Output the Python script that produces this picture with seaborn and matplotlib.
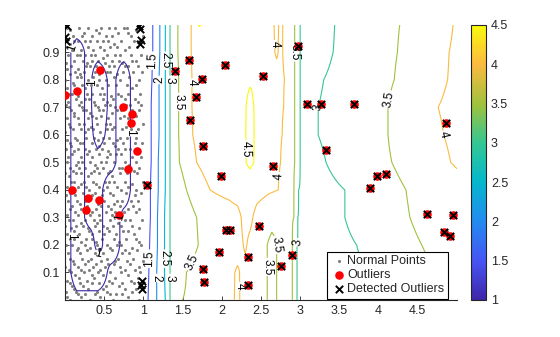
import numpy as np
import pandas as pd
import matplotlib
matplotlib.use("Agg")
import matplotlib.pyplot as plt
import seaborn as sns
from matplotlib.colors import LinearSegmentedColormap, Normalize
from matplotlib.cm import ScalarMappable

# ---------------- data ----------------
# normal points, encoded "xxyy" (x*100, y*100)
normal_codes = """
0301 0700 1602 2101 3200 3802 4501 5702 6100 7302 8001 9400
0103 1104 1403 2602 2904 4103 4904 5303 6502 7704 8503 9104
0606 0905 1906 2305 3506 4406 5205 6006 6905 7306 8806 9705
0207 1309 1808 2807 3409 3708 4809 5607 6408 8109 8407 9308
0511 0810 2011 2410 3111 4210 4511 5810 7110 7611 8911 9610
0012 1213 1712 2613 3612 4013 5112 5513 6213 7012 8313 9412
0715 1014 2215 3014 3315 4614 5315 6414 6815 7914 8715 9914
0417 1518 1917 2818 3817 4318 4917 6018 7317 7718 8217 9218
0120 0920 1619 2520 3219 4120 5420 5819 6620 7120 8519 9720
0622 1122 2121 2722 3522 3921 4722 6222 6921 7822 9022 9521
0324 1225 1824 3125 3424 4425 5024 5625 6524 7425 8125 8824
0027 0826 1427 2327 2926 3827 4827 5326 6127 7127 8527 9426
0529 1029 2028 2629 3729 4128 4529 5729 6828 7729 8329 9829
0231 1332 1731 2432 3231 3532 4331 5232 6031 6432 7532 9132
0733 0934 2133 2834 3933 4634 5534 5933 7034 8033 8734 9533
0436 1536 1935 2536 3036 4235 5036 6335 6736 7336 8436 9336
0138 0639 1338 2339 3438 3839 4738 5839 6138 7839 8938 9739
0341 1140 1741 2741 3140 4341 4840 5341 6641 7240 8141 9040
0843 1243 2142 2443 3643 4042 5143 5643 6343 7643 8642 9943
0046 0545 1446 2046 2945 3346 4446 5546 6045 7046 7946 9246
0748 1047 1848 2648 3747 4148 4948 5747 6948 7348 8847 9548
0250 1449 1650 2250 3250 3849 4650 5250 6250 7650 8249 9150
0452 0953 2052 2853 3552 4353 5352 5853 6553 7253 8552 9752
0155 1154 1755 2555 3154 4055 4755 5554 6855 7755 8355 9454
0657 0856 1957 2357 3457 4456 5057 6157 6456 7457 8957 9857
0358 1359 1558 2759 3759 4258 4859 5659 6658 7059 7959 9159
0061 1062 2162 2661 3062 3662 4561 5362 6062 7362 8462 9362
0564 0763 1864 2464 3363 4164 5264 5764 6363 7863 8764 9964
0266 1267 1666 2966 3567 4066 4667 5566 7066 7567 8166 9067
0869 1168 2369 2769 3268 4469 4969 6068 6669 7169 8569 9569
0171 0570 1871 2270 3871 4270 5171 5771 6470 7871 8371 9771
0472 1473 2072 2573 3173 3772 4873 5472 6173 7673 8973 9372
0775 0975 1674 2875 3575 4575 5075 5974 6875 7274 8075 9675
0277 1278 2278 2677 3378 4178 4777 5578 6578 7978 8677 9178
0080 1079 1581 2181 3080 3681 4380 5280 6281 7080 8281 9580
0682 1383 1982 2483 3883 4482 5383 5883 6782 7483 8783 9883
0384 0885 1784 2785 3285 4085 4684 5685 6385 7785 8185 9385
0186 1187 2387 2886 3587 4287 5186 6087 6987 7386 8587 9087
0489 1589 1989 2589 3389 3889 4988 5489 6489 7089 8489 9789
0292 0991 2191 3092 3691 4592 5091 5792 6692 7691 8292 9292
0693 1294 1694 2694 3294 4194 4894 5594 6293 7294 8894 9594
0096 1096 2296 2497 3596 4397 5296 6096 6897 8097 8496 9996
0399 0798 1899 2999 3998 4699 5699 6499 7599 7999 9098 9499
"""
normal_x = [int(c[:2]) / 100 for c in normal_codes.split()]
normal_y = [int(c[2:]) / 100 for c in normal_codes.split()]

outlier_x = [0.00, 0.157, 0.446, 0.744, 0.85, 0.84, 0.914, 0.085, 0.297, 0.438, 0.268, 0.689, 0.808,
             1.042, 1.403, 1.586, 1.594, 1.67, 1.75, 1.756, 1.764, 1.777, 1.97, 1.99, 2.04, 2.06, 2.105,
             2.34, 2.34, 2.48, 2.53, 2.65, 2.76, 2.9, 2.976, 3.09, 3.265, 3.33, 3.69, 3.89, 3.98, 4.10,
             4.62, 4.83, 4.86, 4.91, 4.95]
outlier_y = [0.745, 0.76, 0.835, 0.70, 0.675, 0.645, 0.54, 0.40, 0.37, 0.365, 0.328, 0.31, 0.477,
             0.419, 0.832, 0.871, 0.654, 0.739, 0.805, 0.113, 0.56, 0.066, 0.174, 0.451, 0.856, 0.253, 0.253,
             0.157, 0.053, 0.27, 0.816, 0.488, 0.125, 0.162, 0.925, 0.712, 0.711, 0.546, 0.711, 0.407, 0.452, 0.457,
             0.314, 0.246, 0.642, 0.234, 0.308]
outlier_detected = [False] * 13 + [True] * 34

false_pos_x = [0.02, 0.005, 0.01, 0.94, 0.96, 0.975, 0.955, 0.98, 0.975, 0.985]
false_pos_y = [0.995, 0.955, 0.94, 0.995, 0.985, 0.945, 0.93, 0.07, 0.055, 0.04]

# outlier-score field, read per row (y) as knots along x
row_y = [0.0, 0.1, 0.2, 0.3, 0.4, 0.5, 0.6, 0.7, 0.8, 0.9, 1.0]
left_x = [0.0, 0.15, 0.3, 0.42, 0.6, 0.75, 0.92]
left_z = [
    [1.1, 1.05, 1.05, 1.05, 1.05, 1.05, 1.1],
    [1.1, 0.9, 0.9, 0.9, 1.05, 1.05, 1.05],
    [1.1, 0.9, 0.9, 1.05, 0.9, 1.05, 1.05],
    [1.1, 0.9, 1.05, 1.05, 0.9, 1.05, 1.05],
    [1.1, 0.9, 1.05, 1.05, 0.9, 0.9, 1.1],
    [1.1, 0.9, 1.05, 1.05, 1.05, 0.9, 1.1],
    [1.1, 0.9, 1.05, 0.95, 1.05, 0.9, 1.1],
    [1.1, 0.9, 1.05, 0.9, 1.05, 0.9, 1.1],
    [1.1, 0.9, 1.05, 0.9, 1.05, 0.9, 1.1],
    [1.1, 0.9, 1.05, 1.05, 1.05, 1.05, 1.05],
    [1.1, 1.1, 1.05, 1.05, 1.05, 1.05, 1.05],
]
right_x = [
    [1.0, 1.06, 1.17, 1.28, 1.34, 1.5, 1.8, 2.12, 2.2, 2.26, 2.5, 2.58, 2.64, 2.70, 2.8, 2.9, 2.96, 3.5, 3.95, 4.35, 4.76, 5.0],
    [1.0, 1.07, 1.17, 1.27, 1.34, 1.55, 1.8, 2.1, 2.2, 2.28, 2.5, 2.58, 2.64, 2.70, 2.8, 2.9, 2.96, 3.4, 3.9, 4.3, 4.7, 5.0],
    [1.0, 1.08, 1.18, 1.27, 1.34, 1.70, 1.9, 2.2, 2.3, 2.36, 2.5, 2.58, 2.64, 2.70, 2.8, 2.9, 2.96, 3.3, 3.72, 4.1, 4.55, 5.0],
    [1.0, 1.09, 1.18, 1.27, 1.34, 1.68, 1.9, 2.2, 2.28, 2.36, 2.45, 2.6, 2.8, 2.92, 2.97, 3.2, 3.57, 4.0, 4.4, 4.7, 5.0],
    [1.0, 1.09, 1.19, 1.28, 1.34, 1.55, 1.85, 2.1, 2.3, 2.45, 2.6, 2.72, 2.92, 2.98, 3.2, 3.57, 3.95, 4.35, 4.7, 5.0],
    [1.0, 1.1, 1.19, 1.28, 1.34, 1.46, 1.68, 1.9, 2.2, 2.3, 2.36, 2.42, 2.6, 2.75, 2.93, 3.0, 3.15, 3.33, 3.75, 4.17, 4.6, 4.92, 5.0],
    [1.0, 1.1, 1.2, 1.28, 1.34, 1.45, 1.63, 1.8, 2.2, 2.3, 2.36, 2.42, 2.6, 2.77, 2.93, 3.0, 3.1, 3.23, 3.7, 4.12, 4.5, 4.83, 5.0],
    [1.0, 1.1, 1.2, 1.28, 1.34, 1.45, 1.62, 1.8, 2.2, 2.3, 2.36, 2.42, 2.6, 2.79, 2.93, 3.0, 3.1, 3.23, 3.7, 4.12, 4.45, 4.76, 5.0],
    [1.0, 1.11, 1.2, 1.28, 1.34, 1.45, 1.62, 1.8, 2.2, 2.38, 2.6, 2.8, 2.93, 3.0, 3.12, 3.3, 3.8, 4.2, 4.55, 4.88, 5.0],
    [1.0, 1.12, 1.21, 1.28, 1.34, 1.44, 1.61, 1.8, 2.2, 2.6, 2.7, 2.75, 2.86, 2.93, 3.0, 3.2, 3.42, 3.85, 4.24, 4.6, 4.9, 5.0],
    [1.0, 1.12, 1.21, 1.28, 1.34, 1.44, 1.61, 1.71, 1.85, 2.2, 2.6, 2.7, 2.75, 2.86, 2.93, 3.0, 3.2, 3.44, 3.85, 4.27, 4.6, 4.95, 5.0],
]
right_z = [
    [1.2, 1.5, 2.0, 2.5, 3.0, 3.5, 3.75, 3.95, 4.05, 3.95, 3.75, 3.5, 3.35, 3.5, 3.6, 3.5, 3.0, 2.85, 3.0, 3.25, 3.5, 3.65],
    [1.2, 1.5, 2.0, 2.5, 3.0, 3.5, 3.75, 3.9, 4.05, 3.9, 3.75, 3.5, 3.35, 3.5, 3.6, 3.5, 3.0, 2.85, 3.0, 3.25, 3.5, 3.7],
    [1.2, 1.5, 2.0, 2.5, 3.0, 3.5, 3.75, 3.85, 4.05, 3.9, 3.75, 3.5, 3.35, 3.5, 3.6, 3.5, 3.0, 2.85, 3.0, 3.25, 3.5, 3.75],
    [1.2, 1.5, 2.0, 2.5, 3.0, 3.5, 3.8, 3.85, 4.1, 4.1, 3.85, 3.7, 3.6, 3.5, 3.0, 2.85, 3.0, 3.25, 3.5, 3.7, 3.8],
    [1.2, 1.5, 2.0, 2.5, 3.0, 3.5, 4.0, 4.1, 4.3, 4.15, 4.05, 4.0, 3.5, 3.0, 2.85, 3.0, 3.25, 3.5, 3.75, 3.9],
    [1.2, 1.5, 2.0, 2.5, 3.0, 3.5, 4.0, 4.3, 4.4, 4.48, 4.58, 4.48, 4.2, 4.0, 3.5, 3.0, 2.85, 3.0, 3.28, 3.5, 3.8, 4.0, 4.03],
    [1.2, 1.5, 2.0, 2.5, 3.0, 3.5, 4.0, 4.3, 4.4, 4.48, 4.65, 4.48, 4.2, 4.0, 3.5, 3.0, 2.85, 3.0, 3.3, 3.5, 3.8, 4.0, 4.08],
    [1.2, 1.5, 2.0, 2.5, 3.0, 3.5, 4.0, 4.3, 4.4, 4.48, 4.6, 4.48, 4.2, 4.0, 3.5, 3.0, 2.85, 3.0, 3.3, 3.5, 3.8, 4.0, 4.1],
    [1.2, 1.5, 2.0, 2.5, 3.0, 3.5, 4.0, 4.3, 4.4, 4.47, 4.2, 4.0, 3.5, 3.0, 2.85, 3.0, 3.28, 3.5, 3.8, 4.0, 4.06],
    [1.2, 1.5, 2.0, 2.5, 3.0, 3.5, 4.0, 4.35, 4.35, 4.1, 3.97, 4.05, 3.85, 3.5, 3.0, 2.82, 3.0, 3.25, 3.5, 3.8, 4.0, 4.05],
    [1.2, 1.5, 2.0, 2.5, 3.0, 3.5, 4.0, 4.52, 4.4, 4.3, 4.1, 3.95, 4.05, 3.85, 3.5, 3.0, 2.8, 3.0, 3.25, 3.5, 3.75, 4.0, 4.05],
]
contour_levels = [1.0, 1.5, 2.0, 2.5, 3.0, 3.5, 4.0, 4.5]
x_ticks = [0.5, 1, 1.5, 2, 2.5, 3, 3.5, 4, 4.5]
y_ticks = [0.1, 0.2, 0.3, 0.4, 0.5, 0.6, 0.7, 0.8, 0.9]
cbar_ticks = [1, 1.5, 2, 2.5, 3, 3.5, 4, 4.5]

# where the contour labels sit (text placement, staggered)
label_spots = [
    (1.10, 0.87), (1.20, 0.80), (1.28, 0.87), (1.34, 0.80), (1.45, 0.72), (1.62, 0.79),
    (1.07, 0.15), (1.17, 0.08), (1.27, 0.15), (1.34, 0.08), (1.60, 0.14),
    (2.69, 0.93), (2.93, 0.90), (3.25, 0.70), (2.36, 0.55), (2.70, 0.45),
    (2.62, 0.12), (2.80, 0.20), (2.96, 0.21), (2.20, 0.05), (4.12, 0.73), (4.82, 0.60),
    (0.15, 0.91), (0.40, 0.79), (0.79, 0.61), (0.10, 0.23), (0.30, 0.15), (0.70, 0.30),
]

# ---------------- field grid ----------------
gx = np.linspace(0, 5, 501)
gy = np.linspace(0, 1, 201)
rows = []
for lz, rx, rz in zip(left_z, right_x, right_z):
    kx = list(left_x) + list(rx)
    kz = list(lz) + list(rz)
    rows.append(np.interp(gx, kx, kz))
rows = np.array(rows)
Z = np.empty((len(gy), len(gx)))
for j in range(len(gx)):
    Z[:, j] = np.interp(gy, row_y, rows[:, j])

# ---------------- style ----------------
sns.set_style("white")
plt.rcParams["font.family"] = ["Liberation Sans", "DejaVu Sans"]
plt.rcParams["font.size"] = 9

parula = LinearSegmentedColormap.from_list("parula", [
    (0.00, (0.24, 0.15, 0.66)),
    (0.14, (0.28, 0.33, 0.96)),
    (0.29, (0.13, 0.55, 0.94)),
    (0.43, (0.02, 0.72, 0.80)),
    (0.57, (0.20, 0.78, 0.58)),
    (0.71, (0.62, 0.76, 0.24)),
    (0.86, (0.99, 0.73, 0.25)),
    (1.00, (0.98, 0.98, 0.05)),
])
norm = Normalize(1.0, 4.5)

fig = plt.figure(figsize=(5.6, 3.37), dpi=100)
ax = fig.add_axes([0.116, 0.110, 0.700, 0.816])
cax = fig.add_axes([0.841, 0.110, 0.027, 0.816])

df_normal = pd.DataFrame({"x": normal_x, "y": normal_y})
df_out = pd.DataFrame({"x": outlier_x, "y": outlier_y, "det": outlier_detected})
det_x = list(df_out.loc[df_out.det, "x"]) + false_pos_x
det_y = list(df_out.loc[df_out.det, "y"]) + false_pos_y
df_det = pd.DataFrame({"x": det_x, "y": det_y})

sns.scatterplot(data=df_normal, x="x", y="y", color=(0.5, 0.5, 0.5), s=5,
                marker="o", linewidth=0, ax=ax, label="Normal Points", zorder=2)

cs = ax.contour(gx, gy, Z, levels=contour_levels, cmap=parula, norm=norm,
                linewidths=0.8, zorder=3)
ax.clabel(cs, fmt="%g", fontsize=8.5, inline=True, inline_spacing=1,
          colors="k", manual=label_spots)

sns.scatterplot(data=df_out, x="x", y="y", color="red", s=38, marker="o",
                linewidth=0, ax=ax, label="Outliers", zorder=4)
sns.scatterplot(data=df_det, x="x", y="y", color="black", s=28, marker="x",
                linewidth=1.4, ax=ax, label="Detected Outliers", zorder=5)

ax.set_xlim(0, 5.0)
ax.set_ylim(0, 1.0)
ax.set_xticks(x_ticks)
ax.set_xticklabels([f"{t:g}" for t in x_ticks])
ax.set_yticks(y_ticks)
ax.set_yticklabels([f"{t:g}" for t in y_ticks])
ax.set_xlabel("")
ax.set_ylabel("")
for s in ["top", "right"]:
    ax.spines[s].set_visible(False)
for s in ["left", "bottom"]:
    ax.spines[s].set_color("#262626")
    ax.spines[s].set_linewidth(0.8)
ax.tick_params(direction="in", length=3, width=0.6, colors="#262626",
               labelsize=9, bottom=True, left=True)

leg = ax.legend(loc="lower right", bbox_to_anchor=(0.978, 0.004), frameon=True,
                fancybox=False, edgecolor="black", fontsize=9, borderpad=0.3,
                labelspacing=0.15, handletextpad=0.1, handlelength=1.2,
                borderaxespad=0.0, markerscale=1.0)
leg.get_frame().set_linewidth(0.8)
leg.get_frame().set_alpha(1.0)
leg.set_zorder(10)

sm = ScalarMappable(norm=norm, cmap=parula)
cb = fig.colorbar(sm, cax=cax)
cb.set_ticks(cbar_ticks)
cb.set_ticklabels([f"{t:g}" for t in cbar_ticks])
cb.ax.tick_params(direction="in", length=3, width=0.6, labelsize=9, colors="#262626")
cb.outline.set_linewidth(0.8)
cb.outline.set_edgecolor("#262626")

fig.savefig("out.png", dpi=100)
